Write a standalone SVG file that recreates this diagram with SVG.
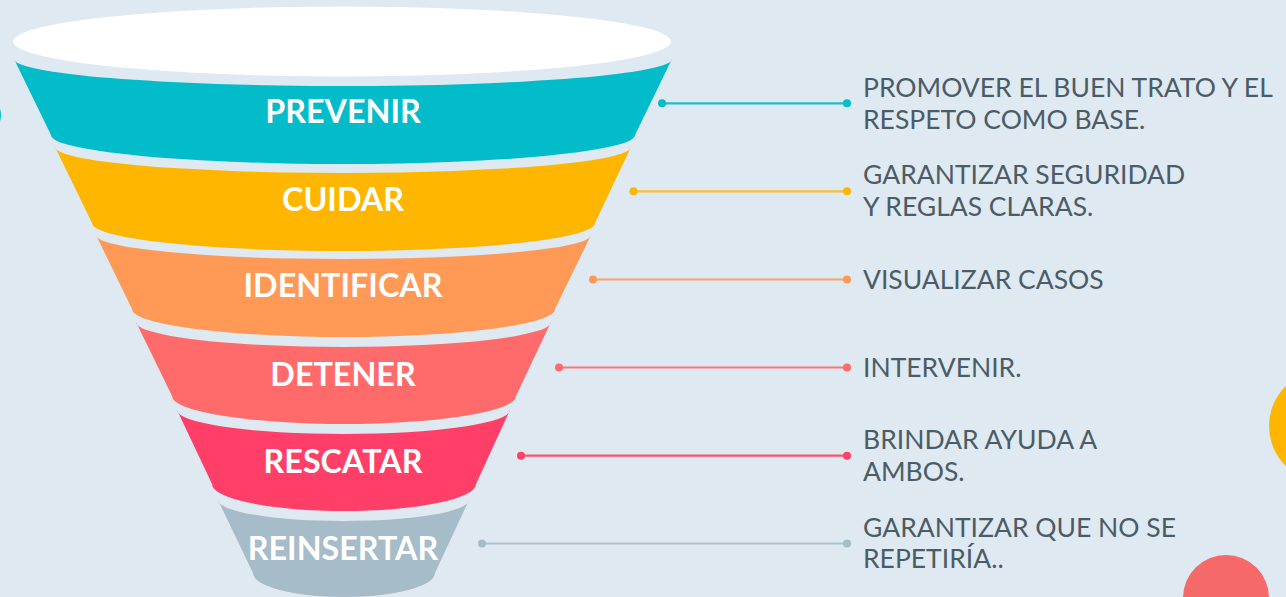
<svg xmlns="http://www.w3.org/2000/svg" width="1286" height="597" viewBox="0 0 1286 597">
<style>
.lbl{font-family:Lato,"Liberation Sans",sans-serif;font-weight:700;font-size:32.3px;fill:#ffffff;text-anchor:middle}
.desc{font-family:Lato,"Liberation Sans",sans-serif;font-size:26.5px;fill:#4B5C66}
.ln{stroke-width:2.2;fill:none}
</style>
<rect x="0" y="0" width="1286" height="597" fill="#DFE9F1"/>
<g id="decor">
<circle cx="-20" cy="115" r="21" fill="#03BCC9"/>
<circle cx="1325" cy="426" r="56" fill="#FFB600"/>
<circle cx="1226" cy="598" r="43" fill="#F66969"/>
</g>
<g id="top-ellipse"><ellipse cx="342" cy="41.5" rx="329" ry="35" fill="#ffffff"/></g>
<g id="n-prevenir">
<path d="M14,59 A329,27 0 0 0 672,59 L635,135 A292,29 0 0 1 51,135 Z" fill="#03BCC9"/>
<text class="lbl" x="343" y="123.3">PREVENIR</text>
</g>
<g id="n-cuidar">
<path d="M55,147 A288,26 0 0 0 631,147 L595,223 A251.5,28 0 0 1 92,223 Z" fill="#FFB600"/>
<text class="lbl" x="343" y="210.8">CUIDAR</text>
</g>
<g id="n-identificar">
<path d="M96,235 A247.5,24 0 0 0 591,235 L555,309 A211.5,28 0 0 1 132,309 Z" fill="#FF9955"/>
<text class="lbl" x="343" y="297.3">IDENTIFICAR</text>
</g>
<g id="n-detener">
<path d="M136,322 A207.5,25 0 0 0 551,322 L516,396 A172,28 0 0 1 172,396 Z" fill="#FF6B6B"/>
<text class="lbl" x="343" y="386.3">DETENER</text>
</g>
<g id="n-rescatar">
<path d="M177,410 A166.5,24 0 0 0 510,410 L476,484 A132,27 0 0 1 212,484 Z" fill="#FF3F67"/>
<text class="lbl" x="343" y="473.3">RESCATAR</text>
</g>
<g id="n-reinsertar">
<path d="M218,500 A125.5,21 0 0 0 469,500 L435,573 A91,24 0 0 1 253,573 Z" fill="#A6BCC8"/>
<text class="lbl" x="343" y="560.3">REINSERTAR</text>
</g>
<g id="connectors">
<g stroke="#1EBFCB" fill="#03BCC9"><line class="ln" x1="662" y1="103.3" x2="847" y2="103.3"/><circle cx="662" cy="103.3" r="4" stroke="none"/><circle cx="847" cy="103.3" r="4" stroke="none"/></g>
<g stroke="#FFBE2A" fill="#FFB600"><line class="ln" x1="633.5" y1="191.3" x2="847" y2="191.3"/><circle cx="633.5" cy="191.3" r="4" stroke="none"/><circle cx="847" cy="191.3" r="4" stroke="none"/></g>
<g stroke="#FFA066" fill="#FF9955"><line class="ln" x1="593" y1="279.5" x2="847" y2="279.5"/><circle cx="593" cy="279.5" r="4" stroke="none"/><circle cx="847" cy="279.5" r="4" stroke="none"/></g>
<g stroke="#FF7676" fill="#FF6B6B"><line class="ln" x1="559" y1="367.5" x2="847" y2="367.5"/><circle cx="559" cy="367.5" r="4" stroke="none"/><circle cx="847" cy="367.5" r="4" stroke="none"/></g>
<g stroke="#FF4F74" fill="#FF3F67"><line class="ln" x1="521" y1="455.7" x2="847" y2="455.7"/><circle cx="521" cy="455.7" r="4" stroke="none"/><circle cx="847" cy="455.7" r="4" stroke="none"/></g>
<g stroke="#AFC3CE" fill="#A6BCC8"><line class="ln" x1="482" y1="543.5" x2="847" y2="543.5"/><circle cx="482" cy="543.5" r="4" stroke="none"/><circle cx="847" cy="543.5" r="4" stroke="none"/></g>
</g>
<g id="descriptions">
<text class="desc" x="863" y="96.7">PROMOVER EL BUEN TRATO Y EL</text>
<text class="desc" x="863" y="129">RESPETO COMO BASE.</text>
<text class="desc" x="863" y="184">GARANTIZAR SEGURIDAD</text>
<text class="desc" x="863" y="216">Y REGLAS CLARAS.</text>
<text class="desc" x="863" y="289">VISUALIZAR CASOS</text>
<text class="desc" x="863" y="377.3">INTERVENIR.</text>
<text class="desc" x="863" y="449">BRINDAR AYUDA A</text>
<text class="desc" x="863" y="480.7">AMBOS.</text>
<text class="desc" x="863" y="536.7">GARANTIZAR QUE NO SE</text>
<text class="desc" x="863" y="568.3">REPETIRÍA..</text>
</g>
</svg>
